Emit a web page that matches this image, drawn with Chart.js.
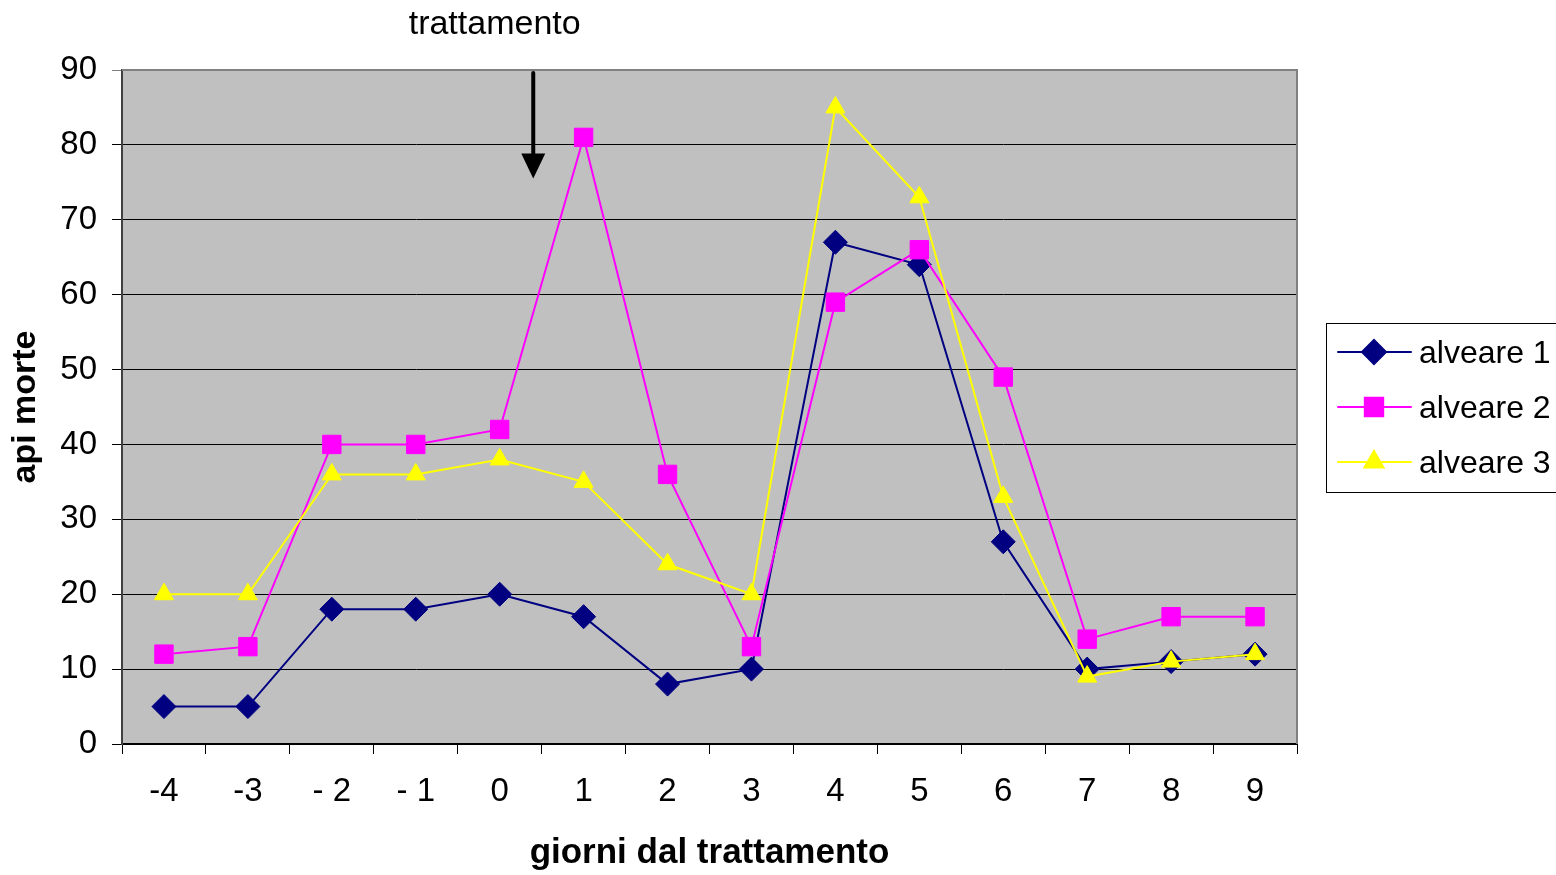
<!DOCTYPE html>
<html>
<head>
<meta charset="utf-8">
<script src="https://cdn.jsdelivr.net/npm/chart.js@4.4.1/dist/chart.umd.min.js"></script>
<style>
  html, body { margin: 0; padding: 0; background: #fff; }
  #wrap { width: 1556px; height: 875px; }
</style>
</head>
<body>
<div id="wrap"><canvas id="myChart" width="1556" height="875"></canvas></div>
<script>
// giorni dal trattamento
var giorni = ['-4', '-3', '- 2', '- 1', '0', '1', '2', '3', '4', '5', '6', '7', '8', '9'];
// api morte per alveare
var alveare1 = [5, 5, 18, 18, 20, 17, 8, 10, 67, 64, 27, 10, 11, 12];
var alveare2 = [12, 13, 40, 40, 42, 81, 36, 13, 59, 66, 49, 14, 17, 17];
var alveare3 = [20, 20, 36, 36, 38, 35, 24, 20, 85, 73, 33, 9, 11, 12];
var nomi = ['alveare 1', 'alveare 2', 'alveare 3'];
var colori = ['#000080', '#FF00FF', '#FFFF00'];
var simboli = ['rectRot', 'rect', 'triangle'];
var raggi = [12, 13, 11];
var yTicks = [0, 10, 20, 30, 40, 50, 60, 70, 80, 90];

var FONT = "'Liberation Sans', Arial, sans-serif";

// sfondo grigio, bordo, freccia, testo e legenda
const sfondo = {
    id: 'sfondo',
    beforeDraw(chart) {
        const { ctx, chartArea: a } = chart;
        ctx.save();
        ctx.fillStyle = '#C0C0C0';
        ctx.fillRect(a.left, a.top, a.right - a.left, a.bottom - a.top);
        ctx.restore();
    },
    afterDraw(chart) {
        const { ctx, chartArea: a } = chart;
        const xs = chart.scales.x, ys = chart.scales.y;
        ctx.save();
        // bordo superiore e destro
        ctx.strokeStyle = '#808080';
        ctx.lineWidth = 2;
        ctx.beginPath();
        ctx.moveTo(a.left, a.top);
        ctx.lineTo(a.right, a.top);
        ctx.lineTo(a.right, a.bottom);
        ctx.stroke();

        // freccia del trattamento
        var fx = xs.getPixelForValue(4.4);
        var y0 = ys.getPixelForValue(89.6);
        var y1 = ys.getPixelForValue(75.5);
        ctx.strokeStyle = '#000';
        ctx.fillStyle = '#000';
        ctx.lineWidth = 4;
        ctx.lineCap = 'round';
        ctx.beginPath();
        ctx.moveTo(fx, y0);
        ctx.lineTo(fx, y1 - 20);
        ctx.stroke();
        ctx.beginPath();
        ctx.moveTo(fx - 12, y1 - 25);
        ctx.lineTo(fx + 12, y1 - 25);
        ctx.lineTo(fx, y1);
        ctx.closePath();
        ctx.fill();

        ctx.font = '34px ' + FONT;
        ctx.textAlign = 'center';
        ctx.textBaseline = 'middle';
        ctx.fillText('trattamento', xs.getPixelForValue(4) - 5, 25);

        // legenda
        var lx = a.right + 29, ly = 323;
        ctx.lineWidth = 1;
        ctx.strokeStyle = '#000';
        ctx.strokeRect(lx + 0.5, ly + 0.5, 240, 169);
        ctx.font = '32px ' + FONT;
        ctx.textAlign = 'left';
        chart.data.datasets.forEach(function (ds, i) {
            var cy = ly + 29 + i * 55;
            ctx.strokeStyle = ds.borderColor;
            ctx.lineWidth = 2;
            ctx.beginPath();
            ctx.moveTo(lx + 12, cy);
            ctx.lineTo(lx + 85, cy);
            ctx.stroke();
            ctx.fillStyle = ds.backgroundColor;
            Chart.helpers.drawPoint(ctx, { pointStyle: ds.pointStyle, radius: ds.pointRadius, borderWidth: 1 }, lx + 48, cy);
            ctx.fillStyle = '#000';
            ctx.fillText(ds.label, lx + 93, cy + 2);
        });
        ctx.restore();
    }
};

var serie = [alveare1, alveare2, alveare3];
var datasets = serie.map(function (valori, i) {
    return {
        label: nomi[i],
        data: valori,
        borderColor: colori[i],
        backgroundColor: colori[i],
        pointBackgroundColor: colori[i],
        pointBorderColor: colori[i],
        pointStyle: simboli[i],
        pointRadius: raggi[i],
        pointHoverRadius: raggi[i],
        pointBorderWidth: 1,
        borderWidth: 2,
        tension: 0,
        order: 2 - i
    };
});

const ctx = document.getElementById('myChart');
const myChart = new Chart(ctx, {
    type: 'line',
    data: { labels: giorni, datasets: datasets },
    plugins: [sfondo],
    options: {
        responsive: false,
        animation: false,
        layout: { padding: { top: 70, right: 259, left: 0, bottom: 0 } },
        plugins: {
            legend: { display: false },
            tooltip: { enabled: false }
        },
        scales: {
            x: {
                type: 'category',
                offset: true,
                grid: {
                    offset: true,
                    drawOnChartArea: false,
                    drawTicks: true,
                    tickLength: 10,
                    color: '#000',
                    lineWidth: 1
                },
                border: { color: '#000', width: 2 },
                ticks: {
                    color: '#000',
                    padding: 18,
                    maxRotation: 0,
                    autoSkip: false,
                    font: { family: FONT, size: 33 }
                },
                title: {
                    display: true,
                    text: 'giorni dal trattamento',
                    color: '#000',
                    padding: { top: 0, bottom: 1 },
                    font: { family: FONT, size: 35, weight: 'bold' }
                },
                afterFit: function (s) { s.height = 131; }
            },
            y: {
                min: 0,
                max: 90,
                afterBuildTicks: function (s) {
                    s.ticks = yTicks.map(function (v) { return { value: v }; });
                },
                grid: {
                    color: function (c) { return c.tick && c.tick.value === 90 ? '#808080' : '#000'; },
                    lineWidth: 1,
                    drawTicks: true,
                    tickLength: 10
                },
                border: { color: '#404040', width: 2 },
                ticks: {
                    color: '#000',
                    padding: 15,
                    font: { family: FONT, size: 33 }
                },
                title: {
                    display: true,
                    text: 'api morte',
                    color: '#000',
                    align: 'center',
                    padding: { top: 5, bottom: 0 },
                    font: { family: FONT, size: 34, weight: 'bold' }
                },
                afterFit: function (s) { s.width = 122; }
            }
        }
    }
});
</script>
</body>
</html>
